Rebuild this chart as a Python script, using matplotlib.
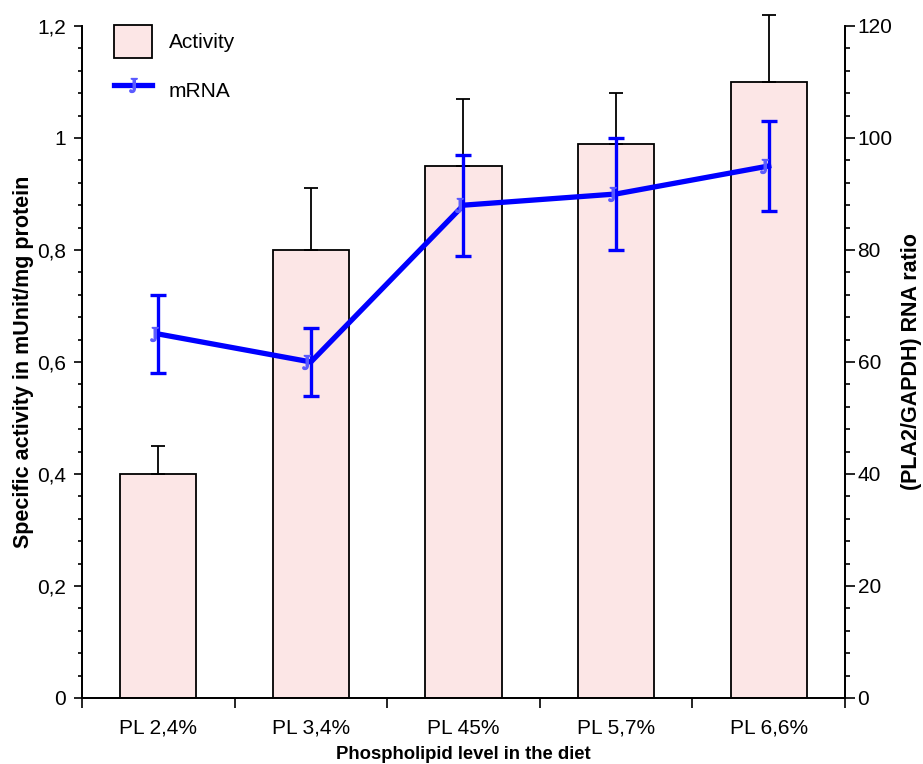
import numpy as np
import matplotlib.pyplot as plt
from matplotlib.patches import Patch
from matplotlib.lines import Line2D
from matplotlib.ticker import MultipleLocator, FixedLocator

plt.rcParams['font.family'] = ['Liberation Sans', 'DejaVu Sans']
plt.rcParams['mathtext.fontset'] = 'stix'

niveis = ['PL 2,4%', 'PL 3,4%', 'PL 45%', 'PL 5,7%', 'PL 6,6%']
atividade = [0.40, 0.80, 0.95, 0.99, 1.10]      # Atividade específica
erro_ativ = [0.05, 0.11, 0.12, 0.09, 0.12]
mrna = [65, 60, 88, 90, 95]                     # Razão PLA2/GAPDH
erro_mrna = [7, 6, 9, 10, 8]

x = np.arange(len(niveis))
marcador = r'$\mathrm{J}$'

fig = plt.figure(figsize=(9.23, 7.64), dpi=100)
ax = fig.add_axes([0.0888, 0.0864, 0.8267, 0.8796])
ax2 = ax.twinx()

# Barras
ax.bar(x, atividade, width=0.5, color='#fce6e6', edgecolor='black', linewidth=1.3, zorder=2)
eb = ax.errorbar(x, atividade, yerr=[np.zeros(len(x)), erro_ativ], fmt='none',
                 ecolor='black', elinewidth=1.3, capsize=5, capthick=1.3, zorder=3)
for art in eb.lines[1] + eb.lines[2]:
    art.set_clip_on(False)

# Linha mRNA
ax2.errorbar(x, mrna, yerr=erro_mrna, fmt='none', ecolor='#0000ff',
             elinewidth=2.4, capsize=6, capthick=2.4, zorder=3)
ax2.plot(x, mrna, color='#0000ff', linewidth=3.8, zorder=4)
ax2.plot(x - 0.03, mrna, linestyle='none', marker=marcador, markersize=10,
         color='#5a5aff', zorder=5)

ax.set_xlim(-0.5, len(x) - 0.5)
ax.set_ylim(0, 1.2)
ax2.set_ylim(0, 120)

ax.set_xticks(x)
ax.set_xticklabels(niveis, fontsize=15)
ax.xaxis.set_minor_locator(FixedLocator(np.arange(-0.5, len(x), 1.0)))
ax.tick_params(axis='x', which='major', length=0, pad=15)
ax.tick_params(axis='x', which='minor', length=7, width=1.2, direction='out')

ax.set_yticks([0, 0.2, 0.4, 0.6, 0.8, 1.0, 1.2])
ax.set_yticklabels(['0', '0,2', '0,4', '0,6', '0,8', '1', '1,2'], fontsize=15)
ax.yaxis.set_minor_locator(MultipleLocator(0.04))
ax.tick_params(axis='y', which='major', length=5.5, width=1.2, pad=6)
ax.tick_params(axis='y', which='minor', length=3, width=1.2)

ax2.yaxis.set_major_locator(MultipleLocator(20))
ax2.yaxis.set_minor_locator(MultipleLocator(4))
ax2.tick_params(axis='y', which='major', length=7, width=1.2, labelsize=15, pad=2)
ax2.tick_params(axis='y', which='minor', length=3.5, width=1.2)

for a in (ax, ax2):
    a.spines['top'].set_visible(False)
    for s in ('left', 'right', 'bottom'):
        a.spines[s].set_linewidth(1.3)

ax.set_xlabel('Phospholipid level in the diet', fontsize=13.3, fontweight='bold', labelpad=6)
ax.set_ylabel('Specific activity in mUnit/mg protein', fontsize=15.5, fontweight='bold', labelpad=2)
ax2.set_ylabel('(PLA2/GAPDH) RNA ratio', fontsize=15.5, fontweight='bold', labelpad=6)

handles = [Patch(facecolor='#fce6e6', edgecolor='black', linewidth=1.3),
           Line2D([], [], color='#0000ff', linewidth=3.8, marker=marcador,
                  markersize=10, markerfacecolor='#5a5aff', markeredgecolor='#5a5aff')]
ax2.legend(handles, ['Activity', 'mRNA'], loc='upper left', bbox_to_anchor=(0.018, 1.03),
           frameon=False, fontsize=15, handlelength=1.8, handleheight=2.1,
           labelspacing=0.75, handletextpad=0.8)

fig.savefig('out.png', dpi=100)
